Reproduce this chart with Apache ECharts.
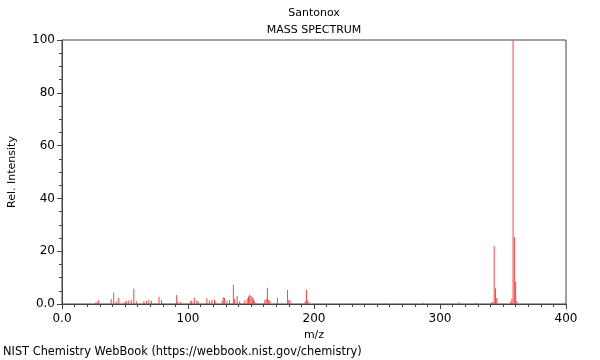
<!DOCTYPE html>
<html>
<head>
<meta charset="utf-8">
<script src="https://cdn.jsdelivr.net/npm/echarts@6/dist/echarts.min.js"></script>
<style>html,body{margin:0;padding:0;background:#fff}#c{width:600px;height:360px}</style>
</head>
<body>
<div id="c"></div>
<script>
const chartTitle = "Santonox";
const chartSubtitle = "MASS SPECTRUM";
const footerText = "NIST Chemistry WebBook (https://webbook.nist.gov/chemistry)";
const xAxisName = "m/z";
const yAxisName = "Rel. Intensity";
const mzValues = [27,28,29,39,41,43,45,50,51,53,55,57,59,65,67,69,71,77,79,91,92,94,102,103,105,107,108,115,117,119,121,122,127,128,129,131,133,136,137,139,141,145,147,148,149,150,151,152,153,161,162,163,164,165,171,179,180,181,193,194,195,196,257,287,300,315,329,341,342,343,344,345,356,357,358,359,360,361];
const intensities = [0.8,0.5,1.4,1.9,4.3,1.0,2.3,0.8,1.2,1.3,1.5,5.8,1.0,1.0,1.2,1.5,1.2,2.7,1.5,3.4,0.8,0.7,1.0,1.3,2.4,1.2,1.0,2.2,1.3,1.5,1.7,0.8,1.2,2.6,2.3,1.2,1.5,7.3,2.0,3.1,1.0,1.4,2.0,2.8,3.5,3.0,2.6,1.8,1.0,1.5,2.0,6.2,1.5,1.2,2.4,5.3,1.5,1.3,1.0,5.3,1.4,0.6,0.4,0.5,0.4,0.7,0.5,0.6,0.8,22,6,2.3,0.8,2.0,100,25.4,8.4,1.0];

const chart = echarts.init(document.getElementById('c'));
const font = 'DejaVu Sans';
const plotLeft = 62, plotRight = 34;
const plotCenter = plotLeft + (600 - plotLeft - plotRight) / 2;
const titleStyle = {fontFamily: font, fontSize: 11, fontWeight: 'normal', color: '#000'};
chart.setOption({
  animation: false,
  backgroundColor: '#fff',
  title: [
    {text: chartTitle, left: plotCenter, top: 8, padding: 0, textAlign: 'center', textStyle: titleStyle},
    {text: chartSubtitle, left: plotCenter, top: 25, padding: 0, textAlign: 'center', textStyle: titleStyle},
    {text: footerText, left: 3, top: 347, padding: 0, textStyle: Object.assign({}, titleStyle, {fontSize: 11.4})}
  ],
  grid: {left: plotLeft, right: plotRight, top: 40, bottom: 56, show: true, borderColor: '#444', borderWidth: 1, containLabel: false, outerBoundsMode: 'none'},
  xAxis: {
    type: 'value', min: 0, max: 400, interval: 100,
    name: xAxisName, nameLocation: 'middle', nameGap: 24,
    nameTextStyle: {fontFamily: font, fontSize: 11, color: '#000'},
    axisLine: {show: true, lineStyle: {color: '#444'}},
    axisTick: {show: true, length: 5, lineStyle: {color: '#444'}},
    minorTick: {show: true, splitNumber: 10, length: 3, lineStyle: {color: '#444'}},
    splitLine: {show: false},
    axisLabel: {fontFamily: font, fontSize: 12, color: '#000', margin: 9, formatter: v => v === 0 ? '0.0' : String(v)}
  },
  yAxis: {
    type: 'value', min: 0, max: 100, interval: 20,
    name: yAxisName, nameLocation: 'middle', nameGap: 44,
    nameTextStyle: {fontFamily: font, fontSize: 11, color: '#000'},
    axisLine: {show: true, lineStyle: {color: '#444'}},
    axisTick: {show: true, length: 5, lineStyle: {color: '#444'}},
    minorTick: {show: true, splitNumber: 4, length: 3, lineStyle: {color: '#444'}},
    splitLine: {show: false},
    axisLabel: {fontFamily: font, fontSize: 12, color: '#000', margin: 7, formatter: v => v === 0 ? '0.0' : String(v)}
  },
  series: [{
    type: 'bar',
    barWidth: 1,
    itemStyle: {color: '#ff4040'},
    data: mzValues.map((m, i) => [m, intensities[i]])
  }]
});
</script>
</body>
</html>
